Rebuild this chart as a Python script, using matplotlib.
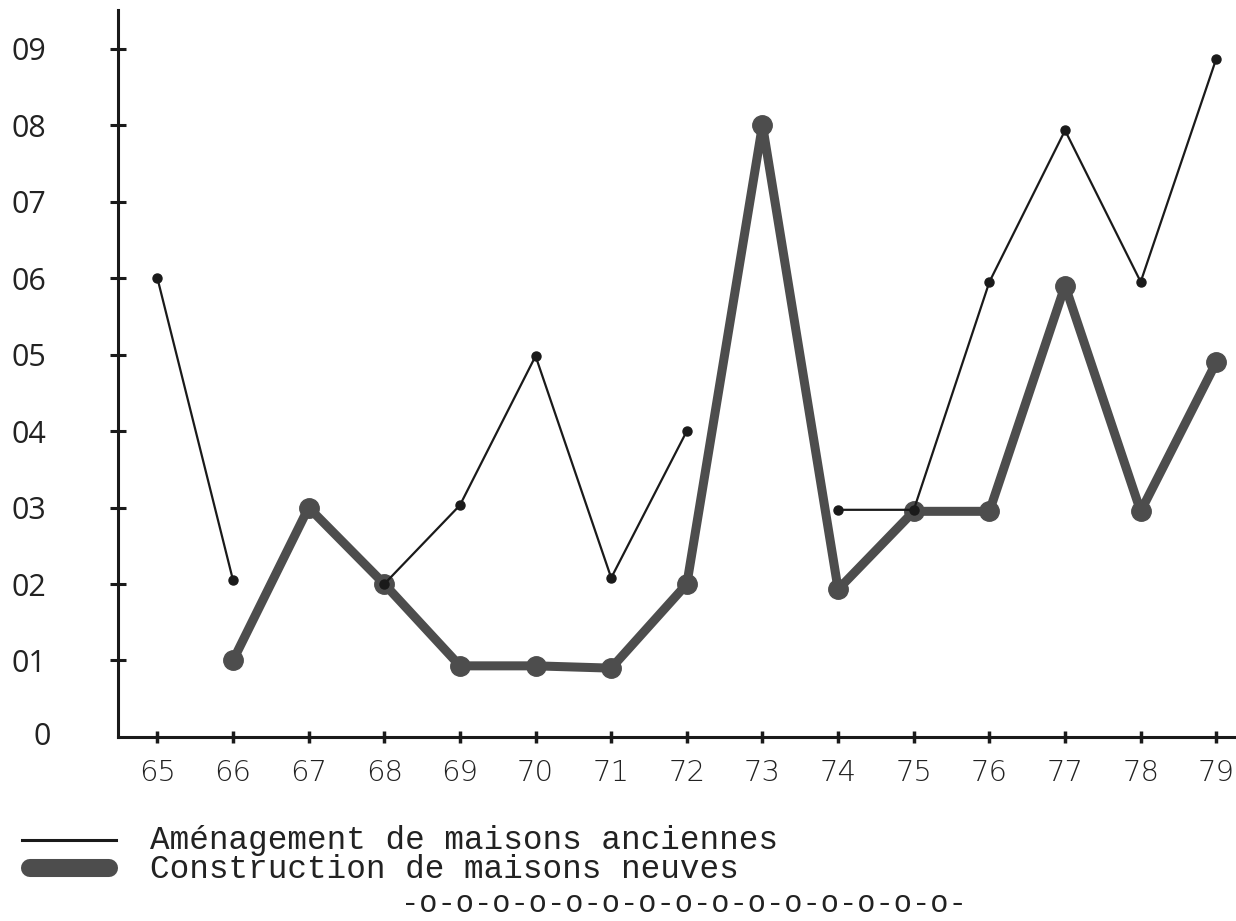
import numpy as np
import matplotlib
matplotlib.use("Agg")
import matplotlib.pyplot as plt
from matplotlib.lines import Line2D

# données
annees = list(range(65, 80))
amenagement = [6.0, 2.05, np.nan, 2.0, 3.03, 4.98, 2.08, 4.0, np.nan,
               2.97, 2.97, 5.95, 7.93, 5.95, 8.87]
annees_constr = list(range(66, 80))
construction = [1.0, 3.0, 2.0, 0.93, 0.93, 0.9, 2.0, 8.0, 1.93, 2.95,
                2.95, 5.9, 2.95, 4.9]
y_ticks = list(range(0, 10))
y_labels = ["0", "01", "02", "03", "04", "05", "06", "07", "08", "09"]
legende = ["Aménagement de maisons anciennes", "Construction de maisons neuves"]

fig = plt.figure(figsize=(12.36, 9.21), dpi=100)
ax = fig.add_axes([0.0955, 0.1998, 0.9045, 0.789])

ax.plot(annees_constr, construction, color="#4d4d4d", linewidth=6.5,
        marker="o", markersize=14, solid_capstyle="round", zorder=2)
ax.plot(annees, amenagement, color="#1a1a1a", linewidth=1.6,
        marker="o", markersize=6.5, zorder=3)

ax.set_xlim(64.48, 79.26)
ax.set_ylim(0, 9.5)

for s in ["top", "right"]:
    ax.spines[s].set_visible(False)
for s in ["left", "bottom"]:
    ax.spines[s].set_linewidth(2.2)
    ax.spines[s].set_color("#1a1a1a")

ax.set_xticks(annees)
ax.set_xticklabels([str(a) for a in annees], fontsize=21,
                   fontfamily="DejaVu Sans", fontweight="light")
ax.set_yticks(y_ticks[1:])
ax.set_yticklabels(y_labels[1:], fontsize=22, fontfamily="Open Sans")
ax.tick_params(axis="x", direction="inout", length=8, width=2.5,
               pad=12, colors="#1a1a1a", labelcolor="#222222")
ax.tick_params(axis="y", direction="inout", length=12, width=2.2,
               pad=71, colors="#1a1a1a", labelcolor="#222222")
for lab in ax.get_yticklabels():
    lab.set_horizontalalignment("left")
# le zéro de l'axe
ax.text(-0.068, 0, "0", transform=ax.get_yaxis_transform(), fontsize=22,
        fontfamily="Open Sans", color="#222222", ha="center", va="center")

# légende en bas
fig.add_artist(Line2D([0.018, 0.094], [1 - 840 / 921] * 2, color="#1a1a1a",
                      linewidth=2.2))
fig.add_artist(Line2D([0.024, 0.088], [1 - 868 / 921] * 2, color="#4d4d4d",
                      linewidth=13, solid_capstyle="round"))
fig.text(0.121, 1 - 840 / 921, legende[0], fontsize=23.5,
         fontfamily="Liberation Mono", color="#222222", va="center")
fig.text(0.121, 1 - 869 / 921, legende[1], fontsize=23.5,
         fontfamily="Liberation Mono", color="#222222", va="center")
fig.text(0.553, 1 - 904 / 921, "-o" * 15 + "-", fontsize=22,
         fontfamily="Liberation Mono", color="#222222", ha="center",
         va="center")

fig.savefig("out.png", dpi=100)
